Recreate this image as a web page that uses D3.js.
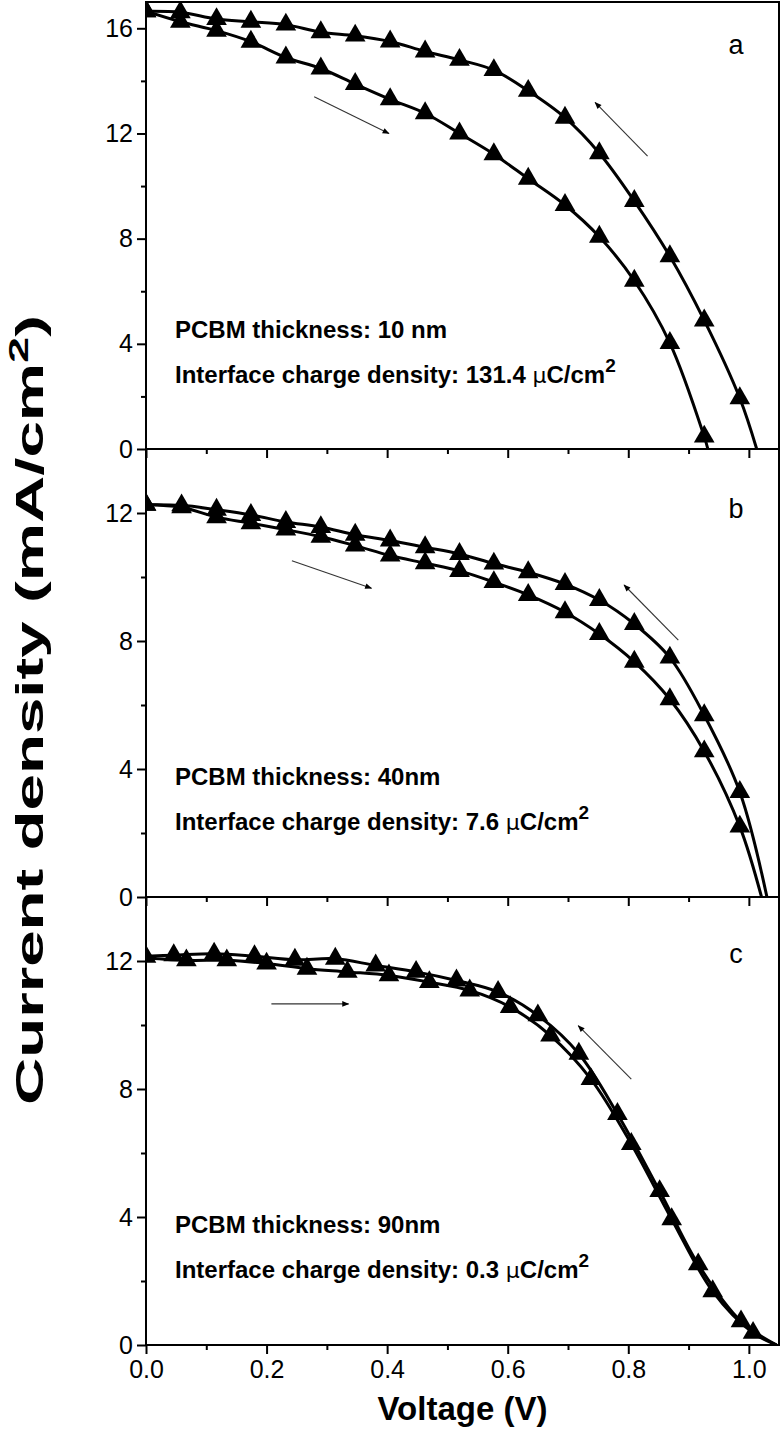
<!DOCTYPE html>
<html><head><meta charset="utf-8">
<script src="https://cdn.jsdelivr.net/npm/d3@7"></script>
<style>
body{margin:0;background:#fff}
svg{display:block}
text{font-family:"Liberation Sans",Arial,Helvetica,sans-serif;fill:#000}
</style>
</head><body>
<svg id="chart" width="782" height="1429"></svg>
<script>
// ---------- data (Voltage V, Current density mA/cm2) ----------
const xTicksMajor = [0, 0.2, 0.4, 0.6, 0.8, 1.0];
const xTicksMinor = [0.1, 0.3, 0.5, 0.7, 0.9];

const aForward = [[0,16.65],[0.057,16.25],[0.117,15.91],[0.174,15.49],[0.232,14.89],[0.290,14.47],[0.347,13.88],[0.405,13.30],[0.463,12.77],[0.520,12.00],[0.577,11.21],[0.634,10.28],[0.695,9.28],[0.752,8.07],[0.810,6.40],[0.869,4.03],[0.926,0.47]];
const aReverse = [[0,16.65],[0.057,16.61],[0.117,16.35],[0.174,16.25],[0.232,16.14],[0.290,15.85],[0.347,15.72],[0.405,15.50],[0.463,15.12],[0.520,14.80],[0.577,14.41],[0.634,13.62],[0.695,12.60],[0.752,11.25],[0.810,9.43],[0.869,7.33],[0.926,4.89],[0.985,1.93]];
const aVoc = [0.932, 1.013];            // forward, reverse zero crossings
const aYTicks = [0, 4, 8, 12, 16];
const aYMinor = [2, 6, 10, 14];
const aArrows = [[[0.279,13.40],[0.403,12.00]], [[0.832,11.14],[0.745,13.18]]];

const bForward = [[0,12.26],[0.059,12.18],[0.117,11.87],[0.174,11.68],[0.232,11.48],[0.290,11.26],[0.347,10.98],[0.405,10.67],[0.463,10.43],[0.520,10.19],[0.577,9.84],[0.634,9.44],[0.695,8.90],[0.752,8.22],[0.810,7.35],[0.869,6.18],[0.926,4.55],[0.985,2.20]];
const bReverse = [[0,12.26],[0.059,12.24],[0.117,12.10],[0.174,11.94],[0.232,11.72],[0.290,11.56],[0.347,11.32],[0.405,11.14],[0.463,10.93],[0.520,10.72],[0.577,10.42],[0.634,10.15],[0.695,9.78],[0.752,9.28],[0.810,8.53],[0.869,7.48],[0.926,5.68],[0.985,3.28]];
const bVoc = [1.021, 1.030];
const bYTicks = [0, 4, 8, 12];
const bYMinor = [2, 6, 10];
const bArrows = [[[0.242,10.51],[0.374,9.65]], [[0.883,8.03],[0.793,9.75]]];

const cForward = [[0,12.13],[0.067,12.02],[0.134,12.02],[0.200,11.92],[0.267,11.76],[0.334,11.66],[0.403,11.55],[0.470,11.34],[0.537,11.08],[0.604,10.56],[0.671,9.67],[0.738,8.31],[0.805,6.28],[0.872,3.93],[0.940,1.68],[1.007,0.38]];
const cReverse = [[0.046,12.18],[0.113,12.23],[0.180,12.15],[0.247,12.04],[0.314,12.07],[0.381,11.86],[0.448,11.66],[0.515,11.39],[0.584,11.03],[0.650,10.30],[0.718,9.10],[0.782,7.22],[0.852,4.81],[0.916,2.52],[0.987,0.74]];
const cStart = [0, 12.15];
const cVoc = [1.046, 1.046];
const cYTicks = [0, 4, 8, 12];
const cYMinor = [2, 6, 10];
const cArrows = [[[0.208,10.66],[0.336,10.66]], [[0.805,8.31],[0.717,9.98]]];

const panelLabels = ["a", "b", "c"];
const thicknessTexts = ["PCBM thickness: 10 nm", "PCBM thickness: 40nm", "PCBM thickness: 90nm"];
const chargeValues = ["131.4", "7.6", "0.3"];
const yMax = [17, 14, 14];

// ---------- layout ----------
const L = 146, R = 779;
const tops = [2, 449, 897], bottoms = [449, 897, 1345];
const svg = d3.select("#chart");
const x = d3.scaleLinear().domain([0, 1.05]).range([L, R]);

const defs = svg.append("defs");
defs.append("marker").attr("id","ah").attr("viewBox","0 0 10 10").attr("refX",9).attr("refY",5)
  .attr("markerWidth",9).attr("markerHeight",7).attr("markerUnits","userSpaceOnUse").attr("orient","auto")
  .append("path").attr("d","M0,1 L10,5 L0,9 Z").attr("fill","#000");

const panels = [
  {fwd:aForward, rev:aReverse, voc:aVoc, yt:aYTicks, ym:aYMinor, arrows:aArrows, start:null},
  {fwd:bForward, rev:bReverse, voc:bVoc, yt:bYTicks, ym:bYMinor, arrows:bArrows, start:null},
  {fwd:cForward, rev:cReverse, voc:cVoc, yt:cYTicks, ym:cYMinor, arrows:cArrows, start:cStart}
];

const tri = d3.symbol().type(d3.symbolTriangle).size(185);

panels.forEach((p, i) => {
  const top = tops[i], bot = bottoms[i];
  const y = d3.scaleLinear().domain([0, yMax[i]]).range([bot, top]);
  const g = svg.append("g");
  const cid = "clip" + i;
  defs.append("clipPath").attr("id", cid).append("rect")
    .attr("x", L).attr("y", top).attr("width", R - L).attr("height", bot - top);

  const line = d3.line().x(d => x(d[0])).y(d => y(d[1])).curve(d3.curveCatmullRom.alpha(0.5));
  const plot = g.append("g").attr("clip-path", `url(#${cid})`);

  const fwdLine = (p.start ? [p.start] : []).concat(p.fwd, [[p.voc[0], 0]]);
  const revLine = (p.start ? [p.start] : []).concat(p.rev, [[p.voc[1], 0]]);
  [fwdLine, revLine].forEach(ld => {
    plot.append("path").datum(ld).attr("d", line)
      .attr("fill","none").attr("stroke","#000").attr("stroke-width",3);
  });
  p.fwd.concat(p.rev).forEach(d => {
    plot.append("path").attr("d", tri)
      .attr("transform", `translate(${x(d[0])},${y(d[1])})`).attr("fill","#000");
  });

  // arrows
  p.arrows.forEach(a => {
    g.append("line").attr("x1", x(a[0][0])).attr("y1", y(a[0][1]))
      .attr("x2", x(a[1][0])).attr("y2", y(a[1][1]))
      .attr("stroke","#333").attr("stroke-width",1.1).attr("marker-end","url(#ah)");
  });

  // y axis
  const ya = g.append("g").attr("transform", `translate(${L},0)`)
    .call(d3.axisLeft(y).tickValues(p.yt).tickSize(9).tickPadding(4).tickFormat(d3.format("d")));
  const ym = g.append("g").attr("transform", `translate(${L},0)`)
    .call(d3.axisLeft(y).tickValues(p.ym).tickSize(5).tickFormat(""));
  // x axis
  const xa = g.append("g").attr("transform", `translate(0,${bot})`)
    .call(d3.axisBottom(x).tickValues(xTicksMajor).tickSize(9).tickPadding(6)
      .tickFormat(i === 2 ? d3.format(".1f") : ""));
  const xm = g.append("g").attr("transform", `translate(0,${bot})`)
    .call(d3.axisBottom(x).tickValues(xTicksMinor).tickSize(5).tickFormat(""));
  [ya, ym, xa, xm].forEach(ax => {
    ax.select(".domain").remove();
    ax.selectAll("line").attr("stroke","#000").attr("stroke-width",2);
    ax.selectAll("text").attr("font-size",25).attr("font-family","'Liberation Sans',Arial,sans-serif");
  });

  // frame
  g.append("rect").attr("x", L).attr("y", top).attr("width", R - L).attr("height", bot - top)
    .attr("fill","none").attr("stroke","#000").attr("stroke-width",2);

  // panel letter
  g.append("text").attr("x", 736).attr("y", top + [43,60,57][i]).attr("dy","0.35em")
    .attr("text-anchor","middle").attr("font-size",27).text(panelLabels[i]);

  // annotations
  g.append("text").attr("x", L + 29).attr("y", top + 336)
    .attr("font-size",24).attr("font-weight","bold").text(thicknessTexts[i]);
  const t2 = g.append("text").attr("x", L + 29).attr("y", top + 381)
    .attr("font-size",24).attr("font-weight","bold");
  t2.append("tspan").text("Interface charge density: " + chargeValues[i] + " ");
  t2.append("tspan").attr("font-weight","normal").attr("font-family","'DejaVu Sans',sans-serif").attr("font-size",22).text("\u03bc");
  t2.append("tspan").text("C/cm");
  t2.append("tspan").attr("dy",-11).attr("font-size",19).text("2");
});

// axis titles
svg.append("text").attr("x", (L + R) / 2).attr("y", 1420).attr("text-anchor","middle")
  .attr("font-size",33).attr("font-weight","bold").text("Voltage (V)");

const yt = svg.append("text").attr("transform","translate(43,710) rotate(-90)")
  .attr("text-anchor","middle").attr("font-size",39).attr("font-weight","bold")
  .attr("textLength",790).attr("lengthAdjust","spacingAndGlyphs");
yt.append("tspan").text("Current density (mA/cm");
yt.append("tspan").attr("dy",-15).attr("font-size",28).text("2");
yt.append("tspan").attr("dy",15).text(")");
</script>
</body></html>
